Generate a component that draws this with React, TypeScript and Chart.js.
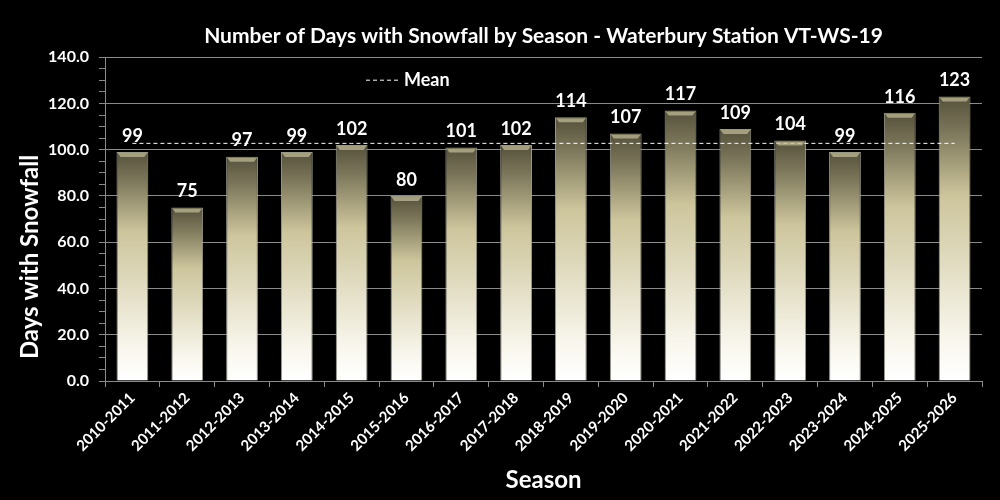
import React, { useEffect, useRef } from 'react';
import { Chart, registerables } from 'chart.js';

Chart.register(...registerables);

const seasons = [
  '2010-2011', '2011-2012', '2012-2013', '2013-2014', '2014-2015', '2015-2016',
  '2016-2017', '2017-2018', '2018-2019', '2019-2020', '2020-2021', '2021-2022',
  '2022-2023', '2023-2024', '2024-2025', '2025-2026',
];
const snowDays = [99, 75, 97, 99, 102, 80, 101, 102, 114, 107, 117, 109, 104, 99, 116, 123];
const meanDays = snowDays.reduce((a, b) => a + b, 0) / snowDays.length;
const meanLine = seasons.map(() => meanDays);

const FONT = 'Lato, "Noto Sans", sans-serif';
const GRID = '#8a8a8a';

// per-bar gradient, dark olive at the top fading to white at the base
const barFill = (ctx: any) => {
  const chart = ctx.chart;
  if (!chart.chartArea || typeof ctx.raw !== 'number') return '#d6cfa8';
  const y = chart.scales.y;
  const top = y.getPixelForValue(ctx.raw);
  const base = y.getPixelForValue(0);
  const g = chart.ctx.createLinearGradient(0, top, 0, base);
  g.addColorStop(0, '#55513b');
  g.addColorStop(0.12, '#7b765a');
  g.addColorStop(0.35, '#cdc59c');
  g.addColorStop(0.6, '#e2ddc3');
  g.addColorStop(0.85, '#f8f6ec');
  g.addColorStop(1, '#ffffff');
  return g;
};

const decorations = {
  id: 'decorations',
  afterDatasetsDraw(chart: any) {
    const { ctx } = chart;
    const meta = chart.getDatasetMeta(0);
    ctx.save();
    meta.data.forEach((bar: any, i: number) => {
      const half = bar.width / 2;
      const l = bar.x - half;
      const r = bar.x + half;
      // top bevel
      ctx.beginPath();
      ctx.moveTo(l + 1, bar.y + 1);
      ctx.lineTo(r - 1, bar.y + 1);
      ctx.lineTo(r - 4, bar.y + 5);
      ctx.lineTo(l + 4, bar.y + 5);
      ctx.closePath();
      ctx.fillStyle = 'rgba(190,184,150,0.75)';
      ctx.fill();
      // value label
      ctx.fillStyle = '#ffffff';
      ctx.font = `bold 18px ${FONT}`;
      ctx.textAlign = 'center';
      ctx.textBaseline = 'bottom';
      ctx.fillText(String(snowDays[i]), bar.x, bar.y - 7);
    });
    ctx.restore();
  },
  afterDraw(chart: any) {
    const { ctx, chartArea } = chart;
    ctx.save();
    // y axis title
    ctx.translate(30, 257);
    ctx.rotate(-Math.PI / 2);
    ctx.fillStyle = '#ffffff';
    ctx.font = `bold 24px ${FONT}`;
    ctx.textAlign = 'center';
    ctx.textBaseline = 'middle';
    ctx.fillText('Days with Snowfall', 0, 0);
    ctx.restore();

    // legend inside plot
    ctx.save();
    const lx = chartArea.left + 261;
    const ly = chartArea.top + 23;
    ctx.strokeStyle = '#ffffff';
    ctx.lineWidth = 1;
    ctx.setLineDash([4, 3]);
    ctx.beginPath();
    ctx.moveTo(lx, ly);
    ctx.lineTo(lx + 32, ly);
    ctx.stroke();
    ctx.setLineDash([]);
    ctx.fillStyle = '#ffffff';
    ctx.font = `bold 18px ${FONT}`;
    ctx.textAlign = 'left';
    ctx.textBaseline = 'middle';
    ctx.fillText('Mean', lx + 38, ly);
    ctx.restore();
  },
};

const App: React.FC = () => {
  const canvasRef = useRef<HTMLCanvasElement>(null);

  useEffect(() => {
    document.body.style.margin = '0';
    document.body.style.background = '#000';
    const ctx = canvasRef.current?.getContext('2d');
    if (!ctx) return;

    const chart = new Chart(ctx, {
      type: 'bar',
      data: {
        labels: seasons,
        datasets: [
          {
            type: 'bar',
            label: 'Days with Snowfall',
            data: snowDays,
            backgroundColor: barFill,
            borderColor: 'rgba(170,168,155,0.9)',
            borderWidth: 1,
            barPercentage: 0.58,
            categoryPercentage: 1,
            order: 2,
          },
          {
            type: 'line',
            label: 'Mean',
            data: meanLine,
            borderColor: '#ffffff',
            borderWidth: 1,
            borderDash: [4, 3],
            pointRadius: 0,
            fill: false,
            order: 1,
          } as any,
        ],
      },
      options: {
        animation: false,
        responsive: true,
        maintainAspectRatio: false,
        layout: { padding: { left: 0, right: 18, top: 0, bottom: 0 } },
        plugins: {
          legend: { display: false },
          tooltip: { enabled: false },
          title: {
            display: true,
            fullSize: false,
            text: 'Number of Days with Snowfall by Season - Waterbury Station VT-WS-19',
            color: '#ffffff',
            font: { family: FONT, size: 21, weight: 'bold', lineHeight: 1.2 },
            padding: { top: 24, bottom: 8 },
          },
        },
        scales: {
          x: {
            afterFit: (scale: any) => { scale.height = 119; },
            grid: { drawOnChartArea: false, color: GRID, tickColor: GRID, tickLength: 6 },
            border: { color: GRID },
            ticks: {
              color: '#ffffff',
              font: { family: FONT, size: 15, weight: 'bold' },
              maxRotation: 45,
              minRotation: 45,
              padding: 2,
            },
            title: {
              display: true,
              text: 'Season',
              color: '#ffffff',
              font: { family: FONT, size: 24, weight: 'bold', lineHeight: 1.2 },
              padding: { top: 0, bottom: 5 },
            },
          },
          y: {
            min: 0,
            max: 140,
            afterFit: (scale: any) => { scale.width = 105; },
            grid: {
              color: (c: any) => (c.tick && c.tick.value % 20 === 0 ? GRID : 'transparent'),
              tickColor: GRID,
              tickLength: 6,
            },
            border: { color: GRID },
            ticks: {
              stepSize: 5,
              maxTicksLimit: 40,
              autoSkip: false,
              color: '#ffffff',
              padding: 10,
              font: { family: FONT, size: 16, weight: 'bold' },
              callback: (v: any) => (Number(v) % 20 === 0 ? Number(v).toFixed(1) : ''),
            },
          },
        },
      },
      plugins: [decorations],
    });

    return () => {
      chart.destroy();
    };
  }, []);

  return (
    <div style={{ width: 1000, height: 500, background: '#000', position: 'relative' }}>
      <canvas ref={canvasRef} />
    </div>
  );
};

export default App;
